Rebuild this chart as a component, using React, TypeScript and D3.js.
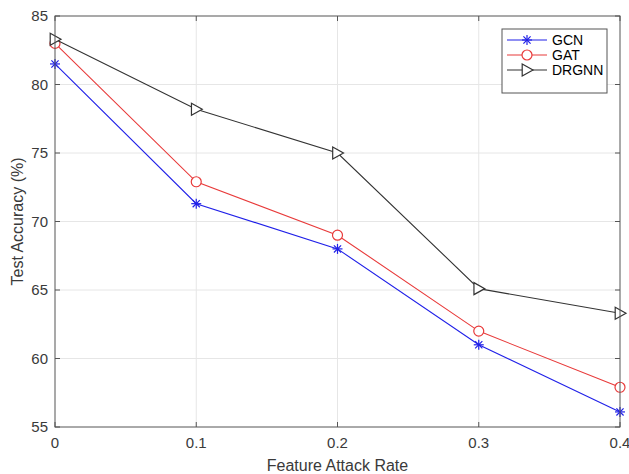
import { useEffect, useRef } from 'react'
import * as d3 from 'd3'

const rates = [0, 0.1, 0.2, 0.3, 0.4]
const gcn = [81.5, 71.3, 68.0, 61.0, 56.1]
const gat = [83.0, 72.9, 69.0, 62.0, 57.9]
const drgnn = [83.3, 78.2, 75.0, 65.1, 63.3]
const xTicks = [0, 0.1, 0.2, 0.3, 0.4]
const yTicks = [55, 60, 65, 70, 75, 80, 85]

const series = [
  { name: 'GCN', values: gcn, color: '#2020e8', marker: 'star' },
  { name: 'GAT', values: gat, color: '#e83a3a', marker: 'circle' },
  { name: 'DRGNN', values: drgnn, color: '#333333', marker: 'triangle' },
]

const W = 629
const H = 474
const left = 55
const right = 620
const top = 16
const bottom = 427

function drawMarker(g: any, kind: string, x: number, y: number, color: string) {
  if (kind === 'star') {
    const r = 5
    const p = g.append('g').attr('stroke', color).attr('stroke-width', 1.2)
    p.append('line').attr('x1', x - r).attr('x2', x + r).attr('y1', y).attr('y2', y)
    p.append('line').attr('x1', x).attr('x2', x).attr('y1', y - r).attr('y2', y + r)
    const d = r * 0.72
    p.append('line').attr('x1', x - d).attr('x2', x + d).attr('y1', y - d).attr('y2', y + d)
    p.append('line').attr('x1', x - d).attr('x2', x + d).attr('y1', y + d).attr('y2', y - d)
  } else if (kind === 'circle') {
    g.append('circle').attr('cx', x).attr('cy', y).attr('r', 5)
      .attr('fill', 'white').attr('stroke', color).attr('stroke-width', 1.2)
  } else {
    const s = 6
    g.append('path')
      .attr('d', `M${x - s * 0.8},${y - s}L${x + s},${y}L${x - s * 0.8},${y + s}Z`)
      .attr('fill', 'white').attr('stroke', color).attr('stroke-width', 1.2)
  }
}

export default function App() {
  const svgRef = useRef<SVGSVGElement>(null)

  useEffect(() => {
    const svg = d3.select(svgRef.current)
    svg.selectAll('*').remove()

    const x = d3.scaleLinear().domain([0, 0.4]).range([left, right])
    const y = d3.scaleLinear().domain([55, 85]).range([bottom, top])

    svg.append('rect').attr('width', W).attr('height', H).attr('fill', 'white')

    // grid
    const grid = svg.append('g').attr('stroke', '#e6e6e6').attr('stroke-width', 1)
    xTicks.slice(1, -1).forEach(t => {
      grid.append('line').attr('x1', x(t)).attr('x2', x(t)).attr('y1', top).attr('y2', bottom)
    })
    yTicks.slice(1, -1).forEach(t => {
      grid.append('line').attr('x1', left).attr('x2', right).attr('y1', y(t)).attr('y2', y(t))
    })

    // series
    const line = d3.line<number>().x((_, i) => x(rates[i])).y(d => y(d))
    series.forEach(s => {
      svg.append('path').attr('d', line(s.values)).attr('fill', 'none')
        .attr('stroke', s.color).attr('stroke-width', 1.1)
      s.values.forEach((v, i) => drawMarker(svg, s.marker, x(rates[i]), y(v), s.color))
    })

    // box + ticks
    const ax = svg.append('g').attr('stroke', '#555555').attr('stroke-width', 1)
    ax.append('rect').attr('x', left).attr('y', top).attr('width', right - left)
      .attr('height', bottom - top).attr('fill', 'none')
    const tl = 5
    xTicks.forEach(t => {
      ax.append('line').attr('x1', x(t)).attr('x2', x(t)).attr('y1', bottom).attr('y2', bottom - tl)
      ax.append('line').attr('x1', x(t)).attr('x2', x(t)).attr('y1', top).attr('y2', top + tl)
    })
    yTicks.forEach(t => {
      ax.append('line').attr('x1', left).attr('x2', left + tl).attr('y1', y(t)).attr('y2', y(t))
      ax.append('line').attr('x1', right).attr('x2', right - tl).attr('y1', y(t)).attr('y2', y(t))
    })

    const font = '"Liberation Sans", Arial, sans-serif'
    svg.append('g').selectAll('text').data(xTicks).join('text')
      .attr('x', d => x(d)).attr('y', bottom + 21)
      .attr('text-anchor', 'middle').attr('font-family', font).attr('font-size', 15)
      .attr('fill', '#3a3a3a').text(d => String(d))
    svg.append('g').selectAll('text').data(yTicks).join('text')
      .attr('x', left - 7).attr('y', d => y(d)).attr('dy', '0.35em')
      .attr('text-anchor', 'end').attr('font-family', font).attr('font-size', 15)
      .attr('fill', '#3a3a3a').text(d => String(d))

    svg.append('text').attr('x', (left + right) / 2).attr('y', bottom + 44)
      .attr('text-anchor', 'middle').attr('font-family', font).attr('font-size', 16)
      .attr('fill', '#3a3a3a').text('Feature Attack Rate')
    svg.append('text')
      .attr('transform', `translate(${23},${(top + bottom) / 2}) rotate(-90)`)
      .attr('text-anchor', 'middle').attr('font-family', font).attr('font-size', 16)
      .attr('fill', '#3a3a3a').text('Test Accuracy (%)')

    // legend
    const lg = svg.append('g')
    lg.append('rect').attr('x', 502).attr('y', 29).attr('width', 105).attr('height', 64)
      .attr('fill', 'white').attr('stroke', '#555555').attr('stroke-width', 1)
    series.forEach((s, i) => {
      const ly = 40 + i * 15
      lg.append('line').attr('x1', 507).attr('x2', 547).attr('y1', ly).attr('y2', ly)
        .attr('stroke', s.color).attr('stroke-width', 1.1)
      drawMarker(lg, s.marker, 527, ly, s.color)
      lg.append('text').attr('x', 552).attr('y', ly).attr('dy', '0.35em')
        .attr('font-family', font).attr('font-size', 14).attr('fill', '#000').text(s.name)
    })
  }, [])

  return <svg ref={svgRef} width={W} height={H} style={{ position: 'absolute', left: 0, top: 0 }} />
}
